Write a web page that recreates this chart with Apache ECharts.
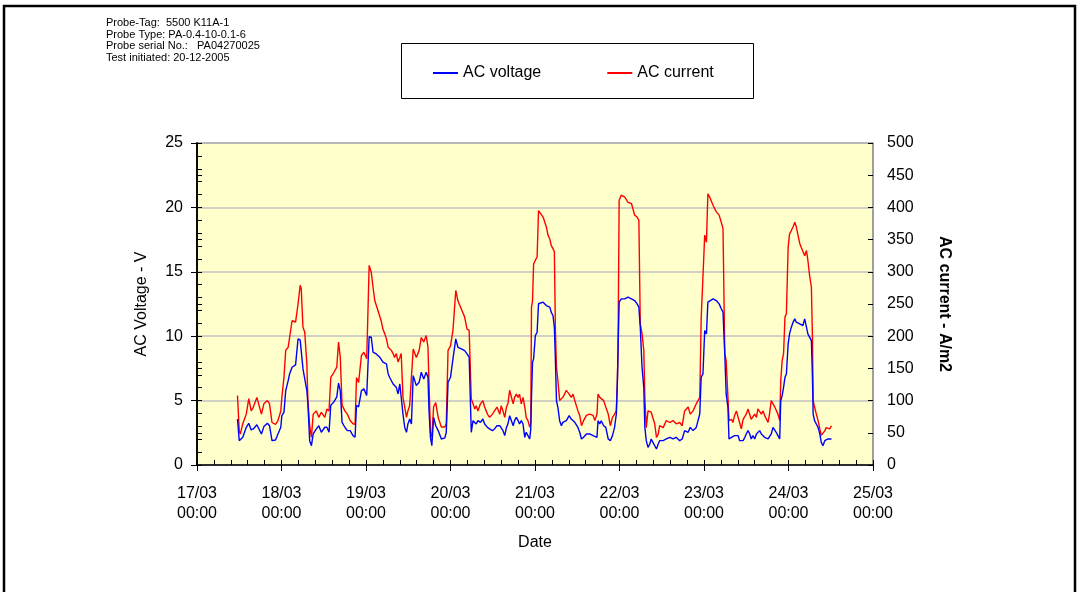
<!DOCTYPE html>
<html>
<head>
<meta charset="utf-8">
<script src="https://cdn.jsdelivr.net/npm/echarts@6/dist/echarts.min.js"></script>
<style>
html,body{margin:0;padding:0;background:#fff;}
#chart{width:1083px;height:592px;}
</style>
</head>
<body>
<div id="chart"></div>
<script>
// hours since 17/03 00:00
var hours = [11.5,12.0,12.3,13.0,14.0,14.7,15.4,16.0,17.0,17.5,18.3,19.0,20.0,20.6,21.3,22.3,23.0,23.8,24.1,24.7,25.2,25.9,26.3,27.0,28.0,28.7,29.3,29.6,30.1,30.6,31.2,31.5,32.0,32.5,33.0,33.9,34.6,35.3,36.3,36.9,37.5,38.0,38.9,39.7,40.2,40.7,41.2,42.0,42.7,43.5,44.3,44.9,45.3,45.9,46.7,47.4,48.2,
48.9,49.5,50.0,50.5,50.9,51.4,51.9,52.4,52.8,53.3,53.8,54.3,54.7,55.2,55.7,56.1,56.6,57.1,57.6,58.0,58.5,59.0,59.5,59.9,60.4,60.9,61.4,61.8,62.3,63.1,63.7,64.4,65.1,65.6,65.9,66.3,66.7,67.2,67.8,68.5,69.4,70.4,70.8,71.3,72.0,72.7,73.5,74.1,75.1,76.0,76.7,77.3,77.6,77.9,78.4,78.9,79.3,79.8,80.5,81.2,81.7,82.5,83.1,83.9,84.5,85.2,86.0,86.4,86.9,87.4,87.9,88.3,88.8,89.3,89.8,90.2,90.7,91.2,91.6,92.1,92.6,93.1,93.5,94.0,94.5,94.8,
95.0,95.3,95.6,96.1,96.6,97.0,97.5,98.3,99.2,99.7,100.2,100.6,101.1,101.5,101.8,102.1,102.5,103.0,103.5,103.9,104.4,104.9,105.7,106.3,106.8,107.3,107.7,108.2,108.7,109.2,109.8,110.6,111.5,112.5,113.0,113.6,113.9,114.4,114.8,115.5,116.1,116.5,116.8,117.4,118.0,118.6,119.1,119.4,119.6,119.9,120.5,121.5,122.4,123.4,124.3,125.0,125.5,125.9,126.4,126.9,127.2,127.6,128.1,128.6,129.0,129.5,130.0,130.5,131.0,131.4,132.4,133.3,134.3,135.2,136.1,137.1,137.8,138.5,139.5,140.1,140.9,141.8,
142.3,142.8,143.2,143.7,144.2,144.7,145.1,145.6,146.6,147.5,148.3,148.9,149.4,149.9,150.3,150.8,151.1,151.8,152.2,152.7,153.2,153.7,154.1,154.6,155.1,155.6,156.0,156.5,157.0,157.4,157.9,158.4,158.9,159.3,159.8,160.3,160.8,161.2,161.7,162.2,162.6,163.1,163.6,164.1,164.5,165.0,165.5,165.8,166.2,166.6,167.0,167.4,167.9,168.3,168.8,169.3,169.8,170.2,170.7,171.2,171.6,172.1,172.6,173.1,173.5,174.0,174.5,174.8,175.0,175.4,175.9,176.4,176.9,177.3,177.8,178.3,178.7,179.2,179.7,180.2];

// AC voltage (V)
var voltage = [3.57,1.89,1.76,2.15,2.93,3.24,2.72,2.80,3.13,3.24,2.41,2.98,3.24,3.05,1.89,1.94,2.41,2.93,3.83,4.09,5.78,6.55,7.07,7.59,7.77,9.80,9.72,9.67,7.46,7.33,5.78,4.74,1.89,1.50,2.41,2.80,3.05,2.54,2.93,2.93,2.54,4.64,4.90,5.29,6.35,5.78,3.31,2.93,2.67,2.67,2.28,2.15,4.64,4.51,5.78,5.91,5.39,
9.97,9.92,8.76,8.68,8.62,8.76,8.37,8.16,7.98,7.90,7.85,7.07,6.81,6.68,6.29,6.29,6.03,5.52,6.29,5.26,3.96,2.92,2.54,3.18,3.57,3.18,6.94,6.81,6.16,6.42,7.20,6.68,7.20,6.81,4.22,2.15,1.50,3.70,3.05,2.67,2.02,2.10,2.54,6.42,6.81,8.24,9.79,9.14,9.02,8.88,8.63,8.37,8.32,2.54,3.44,3.31,3.18,3.44,3.31,3.57,3.18,2.92,2.80,2.67,2.80,3.05,3.05,2.92,2.67,2.28,2.92,3.18,3.83,3.44,3.05,3.44,3.70,3.44,3.18,3.44,3.18,2.15,2.54,2.28,2.02,2.80,
5.26,7.98,8.24,10.05,10.31,12.52,12.64,12.64,12.38,12.31,12.26,11.87,11.61,10.70,8.11,4.99,4.48,3.44,3.05,3.31,3.31,3.44,3.83,3.57,3.44,3.31,3.23,2.92,2.54,2.02,2.15,2.41,2.41,2.28,2.41,2.15,3.44,3.18,3.44,3.05,2.92,3.05,2.02,1.89,2.28,2.92,3.96,6.55,9.14,12.64,12.90,12.90,13.03,12.90,12.77,12.51,12.26,10.70,7.59,6.03,2.92,1.89,1.37,1.63,2.02,1.76,1.76,1.24,1.63,1.89,1.89,2.02,2.15,2.02,2.15,1.89,2.02,2.67,2.54,2.92,2.67,2.92,
3.05,3.96,6.81,7.07,10.44,10.18,12.64,12.77,12.90,12.77,12.51,12.13,11.87,8.63,5.52,4.48,2.02,2.15,2.20,2.28,2.41,2.28,1.89,1.76,1.89,2.15,2.41,2.67,2.41,2.02,2.28,2.02,2.41,2.54,2.67,2.41,2.28,2.15,2.28,2.02,1.89,2.41,2.92,2.80,2.54,2.28,2.02,4.99,5.39,6.03,6.81,7.07,9.40,10.18,10.70,11.09,11.35,11.09,11.22,10.96,11.09,10.83,11.35,10.70,10.18,10.05,9.66,6.81,3.96,3.44,3.18,2.92,2.41,1.76,1.50,1.89,1.76,2.02,1.94,2.02];

// AC current (A/m2)
var current = [108,53,48,64,79,103,84,90,105,108,79,95,100,95,66,63,69,84,105,136,178,183,198,224,222,250,279,274,214,206,157,100,61,43,79,84,74,82,74,87,84,136,144,152,191,167,93,84,79,69,64,63,136,128,170,175,165,
310,299,276,255,258,240,242,222,211,204,196,183,180,178,173,167,173,160,167,173,105,90,74,84,92,95,180,178,167,178,198,191,201,183,126,51,43,90,97,74,59,59,64,178,185,209,271,255,242,230,211,209,209,103,100,87,92,84,95,100,90,79,74,79,84,90,79,92,84,74,90,95,116,118,95,105,110,105,110,95,105,90,74,69,59,64,
245,255,312,318,323,395,393,385,370,357,351,341,336,331,209,152,131,100,97,105,110,116,110,105,110,100,97,84,77,61,69,77,79,77,69,79,110,105,108,100,90,84,79,61,74,79,84,131,183,411,419,416,408,406,388,385,380,219,204,178,105,58,84,87,82,79,64,43,48,61,58,69,66,69,64,66,61,84,90,79,84,95,
97,105,227,230,357,346,421,416,403,393,388,377,367,173,162,105,69,71,66,77,84,74,66,56,71,69,79,87,84,71,69,79,74,87,90,79,84,77,74,66,79,100,97,90,87,79,69,131,162,173,230,235,338,359,364,370,377,370,357,344,338,336,325,333,318,294,276,198,100,90,79,69,56,46,46,53,58,61,56,61];

var dayTicks = ['17/03','18/03','19/03','20/03','21/03','22/03','23/03','24/03','25/03'];
var seriesNames = ['AC voltage','AC current'];
var headerLines = ['Probe-Tag:  5500 K11A-1','Probe Type: PA-0.4-10-0.1-6','Probe serial No.:   PA04270025','Test initiated: 20-12-2005'];

var FONT = '"Liberation Sans", Arial, Helvetica, sans-serif';
var vData = hours.map(function(h,i){return [h, voltage[i]];});
var cData = hours.map(function(h,i){return [h, current[i]];});

var chart = echarts.init(document.getElementById('chart'), null, {renderer:'canvas'});
var headerEls = headerLines.map(function(t,i){
  return {type:'text', left:106, top:17.5 + i*11.7, z:10,
    style:{text:t, font:'11px ' + FONT, fill:'#000'}};
});
chart.setOption({
  animation:false,
  backgroundColor:'#fff',
  textStyle:{fontFamily:FONT},
  graphic:[
    {type:'rect', shape:{x:4, y:6, width:1071, height:600}, style:{fill:'none', stroke:'#000', lineWidth:2.5}, z:0},
    {type:'rect', shape:{x:401.5, y:43.5, width:352, height:55}, style:{fill:'#fff', stroke:'#000', lineWidth:1}, z:0}
  ].concat(headerEls),
  legend:{
    data:seriesNames, left:433, top:65, padding:0, itemWidth:25, itemHeight:2, itemGap:66, icon:'rect',
    textStyle:{fontSize:16, color:'#000', fontFamily:FONT}, z:5
  },
  grid:{left:197, right:210, top:143, bottom:127, show:true, backgroundColor:'#ffffcc', borderColor:'#808080', borderWidth:1.5},
  xAxis:[{
    type:'value', min:0, max:192, interval:24, position:'bottom',
    name:'Date', nameLocation:'middle', nameGap:70,
    nameTextStyle:{fontSize:16, color:'#000', fontFamily:FONT},
    axisLine:{show:true, onZero:false, lineStyle:{color:'#000', width:1.5}},
    axisTick:{show:true, inside:false, length:6, lineStyle:{color:'#000', width:1}},
    axisLabel:{fontSize:16, color:'#000', margin:19, lineHeight:20, fontFamily:FONT,
      formatter:function(v){ return dayTicks[Math.round(v/24)] + '\n00:00'; }},
    splitLine:{show:false}
  },{
    type:'value', min:0, max:192, interval:4.8, position:'bottom',
    axisLine:{show:false, onZero:false}, axisLabel:{show:false},
    axisTick:{show:true, inside:true, length:5, lineStyle:{color:'#000', width:1}},
    splitLine:{show:false}
  }],
  yAxis:[{
    type:'value', min:0, max:25, interval:5, position:'left',
    name:'AC Voltage - V', nameLocation:'middle', nameGap:47, nameRotate:90,
    nameTextStyle:{fontSize:16, color:'#000', fontFamily:FONT},
    axisLine:{show:true, lineStyle:{color:'#000', width:1.5}},
    axisTick:{show:true, inside:false, length:6, lineStyle:{color:'#000', width:1}},
    axisLabel:{fontSize:16, color:'#000', margin:14, fontFamily:FONT},
    splitLine:{show:true, lineStyle:{color:'#c0c0c0', width:1.5}}
  },{
    type:'value', min:0, max:500, interval:50, position:'right',
    name:'AC current - A/m2', nameLocation:'middle', nameGap:63, nameRotate:-90,
    nameTextStyle:{fontSize:16, fontWeight:'bold', color:'#000', fontFamily:FONT},
    axisLine:{show:true, lineStyle:{color:'#000', width:1.5}},
    axisTick:{show:true, inside:false, length:5, lineStyle:{color:'#000', width:1}},
    axisLabel:{fontSize:16, color:'#000', margin:14, fontFamily:FONT},
    splitLine:{show:false}
  },{
    type:'value', min:0, max:25, interval:1, position:'left',
    axisLine:{show:false}, axisLabel:{show:false},
    axisTick:{show:true, inside:true, length:5, lineStyle:{color:'#000', width:1}},
    splitLine:{show:false}
  },{
    type:'value', min:0, max:500, interval:50, position:'right',
    axisLine:{show:false}, axisLabel:{show:false},
    axisTick:{show:true, inside:true, length:5, lineStyle:{color:'#000', width:1}},
    splitLine:{show:false}
  }],
  series:[{
    name:seriesNames[0], type:'line', xAxisIndex:0, yAxisIndex:0, data:vData,
    showSymbol:false, symbol:'none', color:'#0000ff', lineStyle:{color:'#0000ff', width:1.4}, z:3
  },{
    name:seriesNames[1], type:'line', xAxisIndex:0, yAxisIndex:1, data:cData,
    showSymbol:false, symbol:'none', color:'#ff0000', lineStyle:{color:'#ff0000', width:1.4}, z:2
  }]
});
</script>
</body>
</html>
